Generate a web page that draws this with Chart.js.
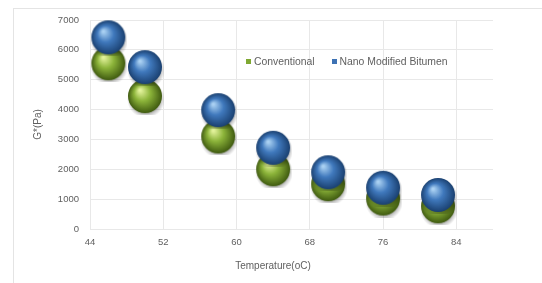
<!DOCTYPE html>
<html>
<head>
<meta charset="utf-8">
<script src="https://cdn.jsdelivr.net/npm/chart.js@4/dist/chart.umd.min.js"></script>
<style>
  html, body { margin: 0; padding: 0; background: #fff; }
  #wrap { position: relative; width: 542px; height: 283px; }
  #frame { position: absolute; left: 13px; top: 8px; width: 540px; height: 290px; border: 1px solid #e4e4e4; box-sizing: border-box; }
  #legend { position: absolute; left: 246px; top: 56px; font: 10.4px "Liberation Sans", Arial, sans-serif; color: #606060; white-space: nowrap; }
  #legend span.sw { display: inline-block; width: 5px; height: 5px; margin-right: 3px; vertical-align: 1px; }
  #legend span.item { margin-right: 14px; }
  #xtitle { position: absolute; left: 230px; top: 260px; width: 86px; text-align: center; font: 10px "Liberation Sans", Arial, sans-serif; color: #606060; white-space: nowrap; }
</style>
</head>
<body>
<div id="wrap">
  <div id="frame"></div>
  <canvas id="chart" width="542" height="283"></canvas>
  <div id="legend">
    <span class="item"><span class="sw" style="background:#7fa832"></span>Conventional</span>
    <span class="item"><span class="sw" style="background:#3d72b4"></span>Nano Modified Bitumen</span>
  </div>
  <div id="xtitle">Temperature(oC)</div>
</div>
<script>
// data
const temps = [46, 50, 58, 64, 70, 76, 82];
const conventional = [5550, 4450, 3100, 2000, 1500, 1020, 760];
const nanoModified = [6420, 5420, 3980, 2720, 1900, 1380, 1140];
const xTicks = [44, 52, 60, 68, 76, 84];
const yTicks = [0, 1000, 2000, 3000, 4000, 5000, 6000, 7000];

// 3d-looking ball used as point style
function makeBall(light, mid, dark) {
    const r = 17;
    const c = document.createElement('canvas');
    c.width = 38; c.height = 38;
    const g = c.getContext('2d');
    const cx = 19, cy = 19;
    // soft shadow
    const sh = g.createRadialGradient(cx + 1, cy + 3, r - 4, cx + 1, cy + 3, r + 2);
    sh.addColorStop(0, 'rgba(0,0,0,0.35)');
    sh.addColorStop(1, 'rgba(0,0,0,0)');
    g.fillStyle = sh;
    g.beginPath(); g.arc(cx + 1, cy + 3, r + 2, 0, Math.PI * 2); g.fill();
    const grad = g.createRadialGradient(cx - 5, cy - 6, 1, cx, cy, r);
    grad.addColorStop(0, light);
    grad.addColorStop(0.45, mid);
    grad.addColorStop(1, dark);
    g.fillStyle = grad;
    g.beginPath(); g.arc(cx, cy, r, 0, Math.PI * 2); g.fill();
    return c;
}
const greenBall = makeBall('#e2f29a', '#8cb43a', '#3f5a10');
const blueBall = makeBall('#a9d0f2', '#4079bd', '#1a4070');

const toPoints = vals => vals.map((v, i) => ({ x: temps[i], y: v }));

const txt = '#606060';
const font = { family: 'Liberation Sans', size: 9.5 };

new Chart(document.getElementById('chart'), {
    type: 'scatter',
    data: {
        datasets: [{
            label: 'Conventional',
            data: toPoints(conventional),
            pointStyle: greenBall,
            backgroundColor: '#7fa832',
            order: 2
        }, {
            label: 'Nano Modified Bitumen',
            data: toPoints(nanoModified),
            pointStyle: blueBall,
            backgroundColor: '#3d72b4',
            order: 1
        }]
    },
    options: {
        responsive: false,
        animation: false,
        layout: { padding: { left: 28, top: 20, right: 49, bottom: 8 } },
        plugins: { legend: { display: false }, tooltip: { enabled: false } },
        scales: {
            x: {
                type: 'linear', min: 44, max: 88,
                afterBuildTicks: s => { s.ticks = xTicks.concat([88]).map(v => ({ value: v })); },
                afterFit: s => { s.height = 46; },
                ticks: { color: txt, font, padding: 8, maxRotation: 0,
                    callback: v => (v === 88 ? '' : v) },
                grid: { color: c => (c.tick && c.tick.value === 88 ? 'rgba(0,0,0,0)' : '#e8e8e8'), drawTicks: false },
                border: { display: false }
            },
            y: {
                min: 0, max: 7000,
                afterBuildTicks: s => { s.ticks = yTicks.map(v => ({ value: v })); },
                afterFit: s => { s.width = 62; },
                ticks: { color: txt, font, padding: 11, callback: v => String(v) },
                grid: { color: '#e8e8e8', drawTicks: false },
                border: { display: false },
                title: { display: true, text: 'G*(Pa)', color: txt, font: { family: 'Liberation Sans', size: 10 }, padding: { bottom: 2 } }
            }
        }
    }
});
</script>
</body>
</html>
